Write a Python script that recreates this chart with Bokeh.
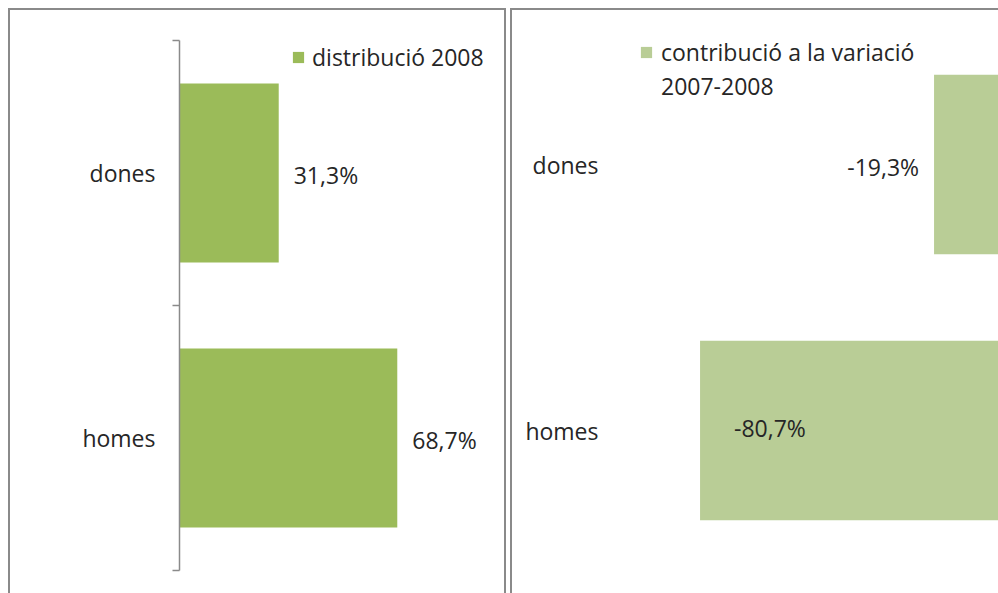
from bokeh.plotting import figure
from bokeh.models import (FixedTicker, Legend, LegendItem, ColumnDataSource, Range1d)
from bokeh.layouts import row
from bokeh.core.properties import value
from bokeh.embed import file_html
from bokeh.resources import INLINE

# ---- data ----
categories = ["dones", "homes"]
distribucio_2008 = [31.3, 68.7]
contribucio_variacio = [-19.3, -80.7]
legend_left = "distribució 2008"
legend_right_1 = "contribució a la variació"
legend_right_2 = "2007-2008"

FONT = "Open Sans"
FS = "23px"
TXT = "#262626"
GRID = "#8a8a8a"
C1 = "#9BBB59"
C2 = "#B9CD96"


def fmt(v):
    return f"{v:.1f}".replace(".", ",") + "%"


n = len(categories)
ys = [n - i - 0.5 for i in range(n)]
overrides = {y: c for y, c in zip(ys, categories)}

g = GRID
left_style = {"box-shadow": f"-2px 0 0 0 {g}, 2px 0 0 0 {g}, 0 -2px 0 0 {g}, "
                            f"-2px -2px 0 0 {g}, 2px -2px 0 0 {g}"}
right_style = {"box-shadow": f"-2px 0 0 0 {g}, 0 -2px 0 0 {g}, -2px -2px 0 0 {g}"}

# shared frame geometry (frames of plots in a row are aligned)
MB_TOP, MB_BOTTOM = 20, 23
FRAME_H = 583 - MB_TOP - MB_BOTTOM

# ---- left panel ----
ky1 = 265.0  # px per category band
p1 = figure(width=494, height=583, output_backend="svg", toolbar_location=None,
            x_range=Range1d(0, 100), y_range=Range1d(0, FRAME_H / ky1), x_axis_location=None,
            min_border_left=169, min_border_right=8, min_border_top=MB_TOP,
            min_border_bottom=MB_BOTTOM, outline_line_color=None, styles=left_style)
p1.grid.visible = False
src1 = ColumnDataSource(dict(y=ys, v=distribucio_2008, t=[fmt(v) for v in distribucio_2008]))
r1 = p1.hbar(y="y", left=0, right="v", height=0.675, source=src1, fill_color=C1, line_color=None)
p1.text(x="v", y="y", text="t", source=src1, x_offset=15, y_offset=2, text_align="left",
        text_baseline="middle", text_font=value(FONT), text_font_size=FS, text_color=TXT)
ax = p1.yaxis[0]
ax.bounds = (0, n)
ax.ticker = FixedTicker(ticks=ys, minor_ticks=list(range(n + 1)))
ax.major_label_overrides = overrides
ax.major_tick_in = 0
ax.major_tick_out = 0
ax.minor_tick_in = 0
ax.minor_tick_out = 7
ax.minor_tick_line_color = GRID
ax.minor_tick_line_width = 1.5
ax.axis_line_color = GRID
ax.axis_line_width = 1.5
ax.major_label_standoff = 17
ax.major_label_text_font = FONT
ax.major_label_text_font_size = FS
ax.major_label_text_color = TXT
lg1 = Legend(items=[LegendItem(label=legend_left, renderers=[r1])], location=(112, 497),
             glyph_width=14, glyph_height=14, label_standoff=7, padding=0, margin=0,
             border_line_color=None, background_fill_alpha=0,
             label_text_font=FONT, label_text_font_size=FS, label_text_color=TXT)
p1.add_layout(lg1)

# ---- right panel ----
k = 3.811   # px per unit along x
ky2 = 266.0  # px per category band
frame_w = 998 - 626
y_lo = -7 / ky2
p2 = figure(width=486, height=583, output_backend="svg", toolbar_location=None,
            x_range=Range1d(-100, -100 + frame_w / k),
            y_range=Range1d(y_lo, y_lo + FRAME_H / ky2), x_axis_location=None,
            min_border_left=114, min_border_right=0, min_border_top=MB_TOP,
            min_border_bottom=MB_BOTTOM, outline_line_color=None, styles=right_style)
p2.grid.visible = False
src2 = ColumnDataSource(dict(y=ys, v=contribucio_variacio, t=[fmt(v) for v in contribucio_variacio],
                             al=["right", "left"], xo=[-15, 34], yo=[2, -3]))
r2 = p2.hbar(y="y", left="v", right=0, height=0.675, source=src2, fill_color=C2, line_color=None)
blank = p2.hbar(y=[], left=[], right=[], height=0.5, fill_alpha=0, line_alpha=0)
p2.text(x="v", y="y", text="t", source=src2, x_offset="xo", y_offset="yo", text_align="al",
        text_baseline="middle", text_font=value(FONT), text_font_size=FS, text_color=TXT)
ax2 = p2.yaxis[0]
ax2.ticker = FixedTicker(ticks=ys)
ax2.major_label_overrides = overrides
ax2.major_tick_in = 0
ax2.major_tick_out = 0
ax2.minor_tick_line_color = None
ax2.axis_line_color = None
ax2.major_label_standoff = 28
ax2.major_label_text_font = FONT
ax2.major_label_text_font_size = FS
ax2.major_label_text_color = TXT
lg2 = Legend(items=[LegendItem(label=legend_right_1, renderers=[r2]),
                    LegendItem(label=legend_right_2, renderers=[blank])],
             location=(13, 468), spacing=2,
             glyph_width=14, glyph_height=14, label_standoff=8, padding=0, margin=0,
             border_line_color=None, background_fill_alpha=0,
             label_text_font=FONT, label_text_font_size=FS, label_text_color=TXT)
p2.add_layout(lg2)

layout = row(p1, p2, spacing=8, margin=(10, 0, 0, 10))
open("out.html", "w").write(file_html(layout, INLINE))
